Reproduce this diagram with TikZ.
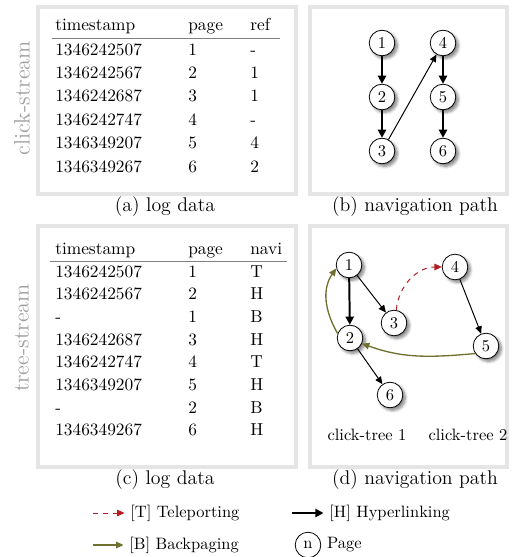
\documentclass[tikz,border=0pt]{standalone}
\usepackage{array,colortbl}
\usetikzlibrary{arrows.meta,positioning,fit,shadows.blur}

\definecolor{backclr}{RGB}{112,112,48}
\definecolor{teleclr}{RGB}{180,30,35}
\newcolumntype{P}[1]{>{\raggedright\arraybackslash}p{#1}}
\arrayrulecolor{gray}

\begin{document}
\begin{tikzpicture}[x=0.606pt, y=0.606pt,
  % Frames and texts
  panel/.style={draw=gray!20, line width=2.4pt, inner sep=0pt},
  subcap/.style={font=\large, inner sep=0pt},
  side/.style={font=\fontsize{13.5}{15}\selectfont, text=gray!75, rotate=90, inner sep=0pt},
  lg/.style={font=\normalsize},
  logtab/.style={anchor=base west, inner sep=0pt, font=\fontsize{10.5}{12.6}\selectfont},
  % Page nodes
  pg/.style={circle, draw, fill=white, line width=0.5pt, minimum size=15.5pt, inner sep=0pt,
             blur shadow={shadow xshift=1.6pt, shadow yshift=-1.6pt, shadow blur steps=6, shadow opacity=50}},
  pgplain/.style={circle, draw, fill=white, line width=0.5pt, minimum size=15.5pt, inner sep=0pt},
  % Connectors
  hl/.style={-{Triangle[length=5pt, width=5pt]}, line width=1.2pt},
  hlt/.style={-{Triangle[length=4.5pt, width=4pt]}, line width=0.6pt},
  tp/.style={-{Triangle[length=4.5pt, width=4pt]}, line width=0.6pt, dashed, teleclr},
  bp/.style={-{Triangle[length=4.5pt, width=4pt]}, line width=0.8pt, backclr},
]
\useasboundingbox (0,0) rectangle (512,-557);

% === Frames ===
\node[panel, fit={(38,-7) (296,-194)}]    (pa) {};
\node[panel, fit={(310,-7) (507,-194)}]   (pb) {};
\node[panel, fit={(38,-226) (296,-467)}]  (pc) {};
\node[panel, fit={(310,-226) (507,-467)}] (pd) {};

\node[subcap] (capa) at (165,-207) {(a) log data};
\node[subcap] (capb) at (415,-207) {(b) navigation path};
\node[subcap] (capc) at (165,-480) {(c) log data};
\node[subcap] (capd) at (415,-480) {(d) navigation path};

\node[side] (sa) at (22,-98)  {click-stream};
\node[side] (sc) at (22,-338) {tree-stream};

% === (a) log data ===
\node[logtab] (loga) at (52,-31) {%
  \renewcommand{\arraystretch}{1.125}%
  \begin{tabular}[t]{@{\hspace{1.8pt}}P{80.6pt}@{}P{37.6pt}@{}l@{\hspace{6pt}}}
    timestamp  & page & ref \\ \hline
    1346242507 & 1 & - \\
    1346242567 & 2 & 1 \\
    1346242687 & 3 & 1 \\
    1346242747 & 4 & - \\
    1346349207 & 5 & 4 \\
    1346349267 & 6 & 2 \\
  \end{tabular}};

% === (b) navigation path ===
\node[pg] (b1) at (382,-43)  {1};
\node[pg] (b2) at (382,-97)  {2};
\node[pg] (b3) at (382,-151) {3};
\node[pg] (b4) at (443,-43)  {4};
\node[pg] (b5) at (443,-97)  {5};
\node[pg] (b6) at (443,-151) {6};

\draw[hl]  (b1) -- (b2);
\draw[hl]  (b2) -- (b3);
\draw[hlt] (b3) -- (b4);
\draw[hl]  (b4) -- (b5);
\draw[hl]  (b5) -- (b6);

% === (c) log data ===
\node[logtab] (logc) at (50,-254) {%
  \renewcommand{\arraystretch}{1.09}%
  \begin{tabular}[t]{@{\hspace{3pt}}P{80.6pt}@{}P{37.6pt}@{}l@{\hspace{3pt}}}
    timestamp  & page & navi \\ \hline
    1346242507 & 1 & T \\
    1346242567 & 2 & H \\
    -          & 1 & B \\
    1346242687 & 3 & H \\
    1346242747 & 4 & T \\
    1346349207 & 5 & H \\
    -          & 2 & B \\
    1346349267 & 6 & H \\
  \end{tabular}};

% === (d) navigation path ===
\node[pg] (d1) at (349,-265) {1};
\node[pg] (d2) at (350,-338) {2};
\node[pg] (d3) at (394,-323) {3};
\node[pg] (d4) at (455,-267) {4};
\node[pg] (d5) at (486,-346) {5};
\node[pg] (d6) at (390,-395) {6};

\draw[hl]  (d1) -- (d2);
\draw[hlt] (d1) -- (d3);
\draw[hlt] (d2) -- (d6);
\draw[hlt] (d4) -- (d5);
\draw[tp]  (d3.80) to[out=85, in=180] (d4.west);
\draw[bp]  (d5.215) to[out=185, in=-20] (d2.-25);
\draw[bp]  (d2.160) to[out=120, in=235] (d1.195);

\node (ct1) at (367,-435) {click-tree 1};
\node (ct2) at (468,-435) {click-tree 2};

% === Legend ===
\coordinate (tpS) at (93,-513);
\node[lg, anchor=west] (tpL) at (124.5,-513) {[T] Teleporting};
\draw[tp] (tpS) -- (tpL.west);

\coordinate (hlS) at (292,-513);
\node[lg, anchor=west] (hlL) at (323.5,-513) {[H] Hyperlinking};
\draw[hl] (hlS) -- (hlL.west);

\coordinate (bpS) at (93,-545);
\node[lg, anchor=west] (bpL) at (123.5,-545) {[B] Backpaging};
\draw[bp] (bpS) -- (bpL.west);

\node[pgplain] (lgn) at (308,-545) {n};
\node[lg, right=0pt of lgn] (lgL) {Page};

\end{tikzpicture}
\end{document}
